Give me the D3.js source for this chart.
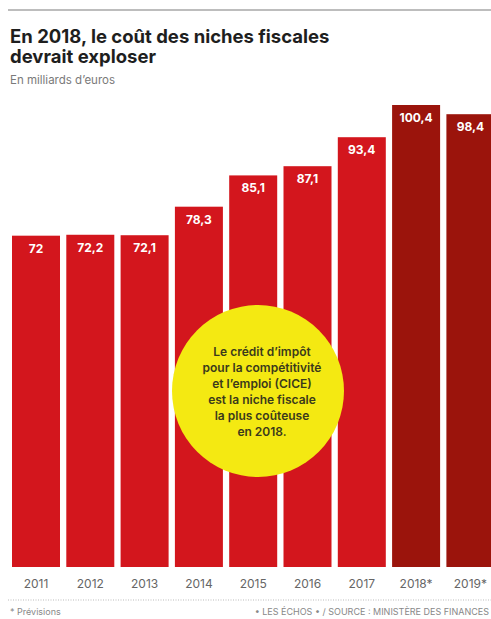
<!DOCTYPE html>
<html>
<head>
<meta charset="utf-8">
<script src="https://cdn.jsdelivr.net/npm/d3@7"></script>
<style>
  body { margin: 0; background: #fff; }
  svg { display: block; font-family: Inter, "Open Sans", sans-serif; }
</style>
</head>
<body>
<svg id="chart" width="491" height="619"></svg>
<script>
// données (en milliards d'euros)
var years = ["2011", "2012", "2013", "2014", "2015", "2016", "2017", "2018", "2019"];
var values = [72, 72.2, 72.1, 78.3, 85.1, 87.1, 93.4, 100.4, 98.4];
var forecast = [false, false, false, false, false, false, false, true, true];
var yearLabels = ["2011", "2012", "2013", "2014", "2015", "2016", "2017", "2018*", "2019*"];
var titleLines = ["En 2018, le coût des niches fiscales", "devrait exploser"];
var noteLines = ["Le crédit d’impôt", "pour la compétitivité", "et l’emploi (CICE)",
                 "est la niche fiscale", "la plus coûteuse", "en 2018."];

var svg = d3.select("#chart");

var W = 491, H = 619;
var L = 12, base = 567, top_ = 105;

// filet du haut
svg.append("line")
    .attr("x1", 8).attr("x2", W)
    .attr("y1", 10).attr("y2", 10)
    .attr("stroke", "#bdbdbd")
    .attr("stroke-width", 2);

svg.append("g").selectAll("text")
    .data(titleLines)
  .enter().append("text")
    .attr("x", 10)
    .attr("y", function(d, i) { return 43 + i * 20; })
    .attr("font-size", 18.5).attr("font-weight", 700)
    .attr("fill", "#1e1e1e")
    .text(function(d) { return d; });

svg.append("text")
    .attr("x", 10).attr("y", 84)
    .attr("font-size", 11.5)
    .attr("fill", "#7a7a7a")
    .text("En milliards d’euros");

var xScale = d3.scaleBand()
    .domain(years)
    .range([L, 494.4])
    .paddingInner(0.116)
    .paddingOuter(0);

var yScale = d3.scaleLinear()
    .domain([0, 100.4])
    .range([base, top_]);

var data = years.map(function(y, i) {
  return { year: y, value: values[i], forecast: forecast[i], label: yearLabels[i] };
});

svg.selectAll("rect.bar")
    .data(data)
  .enter().append("rect")
    .attr("class", "bar")
    .attr("x", function(d) { return xScale(d.year); })
    .attr("y", function(d) { return yScale(d.value); })
    .attr("width", xScale.bandwidth())
    .attr("height", function(d) { return base - yScale(d.value); })
    .attr("fill", function(d) { return d.forecast ? "#9b140c" : "#d3161d"; });

svg.selectAll("text.val")
    .data(data)
  .enter().append("text")
    .attr("class", "val")
    .attr("x", function(d) { return xScale(d.year) + xScale.bandwidth() / 2; })
    .attr("y", function(d) { return yScale(d.value) + 17; })
    .attr("text-anchor", "middle")
    .attr("font-size", 12).attr("font-weight", 700)
    .attr("fill", "#fff")
    .text(function(d) { return String(d.value).replace(".", ","); });

// axe des années
var xAxis = d3.axisBottom(xScale)
    .tickSize(0)
    .tickFormat(function(d, i) { return yearLabels[i]; });

var gx = svg.append("g")
    .attr("transform", "translate(0," + base + ")")
    .call(xAxis);
gx.select(".domain").remove();
gx.selectAll("text")
    .attr("dy", 0).attr("y", 21)
    .attr("font-family", "Inter, sans-serif")
    .attr("font-size", 12)
    .attr("fill", "#666");

// pastille jaune
var cx = 258, cy = 391;
svg.append("circle")
    .attr("cx", cx).attr("cy", cy).attr("r", 86)
    .attr("fill", "#f4e912");

svg.append("g").selectAll("text")
    .data(noteLines)
  .enter().append("text")
    .attr("x", cx + 4)
    .attr("y", function(d, i) { return 356 + i * 16; })
    .attr("text-anchor", "middle")
    .attr("font-size", 12).attr("font-weight", 600)
    .attr("fill", "#3b3a1c")
    .text(function(d) { return d; });

// pied
svg.append("line")
    .attr("x1", 8).attr("x2", W)
    .attr("y1", 600).attr("y2", 600)
    .attr("stroke", "#bbb")
    .attr("stroke-dasharray", "1,1.5");

svg.append("text")
    .attr("x", 10).attr("y", 615)
    .attr("font-size", 9)
    .attr("fill", "#888")
    .text("* Prévisions");
svg.append("text")
    .attr("x", 489).attr("y", 615)
    .attr("text-anchor", "end")
    .attr("font-size", 9)
    .attr("fill", "#888")
    .text("• LES ÉCHOS • / SOURCE : MINISTÈRE DES FINANCES");
</script>
</body>
</html>
